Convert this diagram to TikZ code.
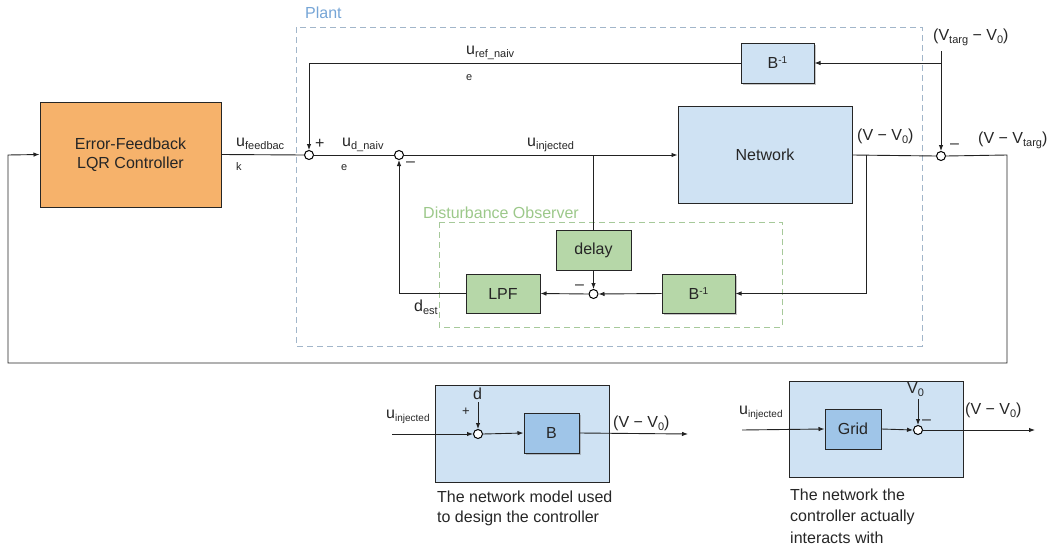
\documentclass[tikz,border=0pt]{standalone}
\usepackage{fontspec}
\setmainfont{Liberation Sans}
\usetikzlibrary{arrows.meta,shadows}

\definecolor{ctrlorange}{HTML}{F6B26B}
\definecolor{paleblue}{HTML}{CFE2F3}
\definecolor{midblue}{HTML}{9FC5E8}
\definecolor{obsgreen}{HTML}{B6D7A8}
\definecolor{plantdash}{HTML}{A2B6CA}
\definecolor{plantlabel}{HTML}{76A5D6}
\definecolor{obsdash}{HTML}{A6C99A}
\definecolor{obslabel}{HTML}{9CC88A}
\definecolor{wirecol}{HTML}{222222}
\definecolor{textcol}{HTML}{262626}

% subscript / superscript helpers in the sans text font
\newcommand\lo[1]{\raisebox{-3.5pt}{\fontsize{11}{11}\selectfont #1}}
\newcommand\hi[1]{\raisebox{5pt}{\fontsize{10}{10}\selectfont #1}}

\begin{document}
\begin{tikzpicture}[x=1pt,y=-1pt,
  font=\fontsize{16}{19}\selectfont, text=textcol,
  block/.style={draw=black!85, line width=1pt, inner sep=0pt, align=center},
  shadowed/.style={drop shadow={opacity=0.45, shadow xshift=2pt, shadow yshift=-2pt}},
  sumnode/.style={circle, draw=black, fill=white, line width=1pt, minimum size=9pt, inner sep=0pt},
  wire/.style={draw=wirecol, line width=0.9pt},
  arr/.style={wire, -{Latex[length=6pt,width=4.5pt]}},
  lbl/.style={inner sep=0pt, anchor=base west},
  small/.style={font=\fontsize{11}{11}\selectfont},
]
\useasboundingbox (0,0) rectangle (1050,546);

% ---------- controller ----------
\node[block, fill=ctrlorange, minimum width=181, minimum height=105] (ctrl) at (130.5,154.5)
  {Error-Feedback\\LQR Controller};

% ---------- plant frame ----------
\draw[plantdash, line width=1pt, dash pattern=on 6pt off 4pt] (296,27) rectangle (922,346);
\node[lbl, text=plantlabel] (plantlbl) at (305,19) {Plant};

% ---------- observer frame ----------
\draw[obsdash, line width=1pt, dash pattern=on 6pt off 4pt] (439,222) rectangle (782,327);
\node[lbl, text=obslabel] (obslbl) at (423,218) {Disturbance Observer};

% ---------- blocks ----------
\node[block, fill=paleblue, minimum width=174, minimum height=97] (net) at (765,155) {Network};
\node[block, fill=paleblue, shadowed, minimum width=73, minimum height=40] (binv) at (777.5,63) {B\hi{-1}};
\node[block, fill=obsgreen, minimum width=75, minimum height=40] (delay) at (593.5,250) {delay};
\node[block, fill=obsgreen, minimum width=74, minimum height=39] (lpf) at (503,293.5) {LPF};
\node[block, fill=obsgreen, shadowed, minimum width=73, minimum height=39] (binvg) at (698.5,293.5) {B\hi{-1}};

% ---------- summing junctions ----------
\node[sumnode] (s1) at (309,155) {};
\node[sumnode] (s2) at (399,155) {};
\node[sumnode] (s3) at (593.5,294) {};
\node[sumnode] (s4) at (941,156) {};

% ---------- free ends and corners ----------
\coordinate (vt) at (941,51);
\coordinate (tapd) at (593.5,155);
\coordinate (tapn) at (866,155);
\coordinate (fbA) at (1007,155);
\coordinate (fbB) at (1007,363);
\coordinate (fbC) at (8,363);
\coordinate (fbD) at (8,155);

% ---------- forward path ----------
\draw[wire] (ctrl.east) -- (s1.west);
\draw[wire] (s1.east) -- (s2.west);
\draw[arr] (s2.east) -- (net.west);
\draw[wire] (net.east) -- (s4.west);
\draw[arr] (s4.east) -- (fbA) -- (fbB) -- (fbC) -- (fbD) -- (ctrl.west);

% ---------- reference path ----------
\draw[arr] (vt) -- (s4.north);
\draw[arr] (vt |- binv.east) -- (binv.east);
\draw[arr] (binv.west) -| (s1.north);

% ---------- disturbance observer ----------
\draw[wire] (tapd) -- (delay.north);
\draw[arr] (tapn) |- (binvg.east);
\draw[arr] (binvg.west) -- (s3.east);
\draw[arr] (delay.south) -- (s3.north);
\draw[arr] (s3.west) -- (lpf.east);
\draw[arr] (lpf.west) -| (s2.south);

% ---------- labels ----------
\node[lbl] (lfb) at (236,146) {u\lo{feedbac}};
\node[lbl, small] (lfbk) at (236,170) {k};
\node[lbl] (ldn) at (342,146) {u\lo{d\_naiv}};
\node[lbl, small] (ldne) at (341,170) {e};
\node[lbl] (linj) at (527,146) {u\lo{injected}};
\node[lbl] (lref) at (466,54) {u\lo{ref\_naiv}};
\node[lbl, small] (lrefe) at (466,80) {e};
\node[lbl] (lplus1) at (315,148) {+};
\node[lbl] (lmin2) at (406,166) {–};
\node[lbl] (lvt) at (933,40) {(V\lo{targ} − V\lo{0})};
\node[lbl] (lvo) at (857,140) {(V − V\lo{0})};
\node[lbl] (lmin4) at (950,148) {–};
\node[lbl] (lvvt) at (978,143) {(V − V\lo{targ})};
\node[lbl] (lmin3) at (575,289) {–};
\node[lbl] (ldest) at (414,311) {d\lo{est}};

% ---------- model network ----------
\node[block, fill=paleblue, minimum width=174, minimum height=97] (m1) at (522,433.5) {};
\node[block, fill=midblue, shadowed, minimum width=55, minimum height=40] (bb) at (551.5,433) {B};
\node[sumnode] (s5) at (478,434) {};
\coordinate (in1) at (392,434);
\coordinate (d1) at (478,402);
\coordinate (out1) at (688,434);
\draw[arr] (in1) -- (s5.west);
\draw[arr] (d1) -- (s5.north);
\draw[arr] (s5.east) -- (bb.west);
\draw[arr] (bb.east) -- (out1);
\node[lbl] (m1u) at (386,418) {u\lo{\fontsize{10}{10}\selectfont injected}};
\node[lbl] (m1d) at (473,399) {d};
\node[lbl, font=\fontsize{13}{13}\selectfont] (m1p) at (462,415) {+};
\node[lbl] (m1o) at (613,427) {(V − V\lo{0})};
\node[lbl, align=left, font=\fontsize{16}{20}\selectfont] (m1c) at (437,522)
  {The network model used\\to design the controller};

% ---------- actual network ----------
\node[block, fill=paleblue, minimum width=174, minimum height=96] (m2) at (876,429) {};
\node[block, fill=midblue, minimum width=56, minimum height=40] (grid) at (853,429) {Grid};
\node[sumnode] (s6) at (918,430) {};
\coordinate (in2) at (742,430);
\coordinate (v0) at (918,399);
\coordinate (out2) at (1035,430);
\draw[arr] (in2) -- (grid.west);
\draw[arr] (grid.east) -- (s6.west);
\draw[arr] (v0) -- (s6.north);
\draw[arr] (s6.east) -- (out2);
\node[lbl] (m2u) at (739,414) {u\lo{\fontsize{10}{10}\selectfont injected}};
\node[lbl] (m2v) at (907,393) {V\lo{0}};
\node[lbl] (m2m) at (922,424) {–};
\node[lbl] (m2o) at (965,414) {(V − V\lo{0})};
\node[lbl, align=left, font=\fontsize{16}{21.5}\selectfont] (m2c) at (790,543)
  {The network the\\controller actually\\interacts with};
\end{tikzpicture}
\end{document}
